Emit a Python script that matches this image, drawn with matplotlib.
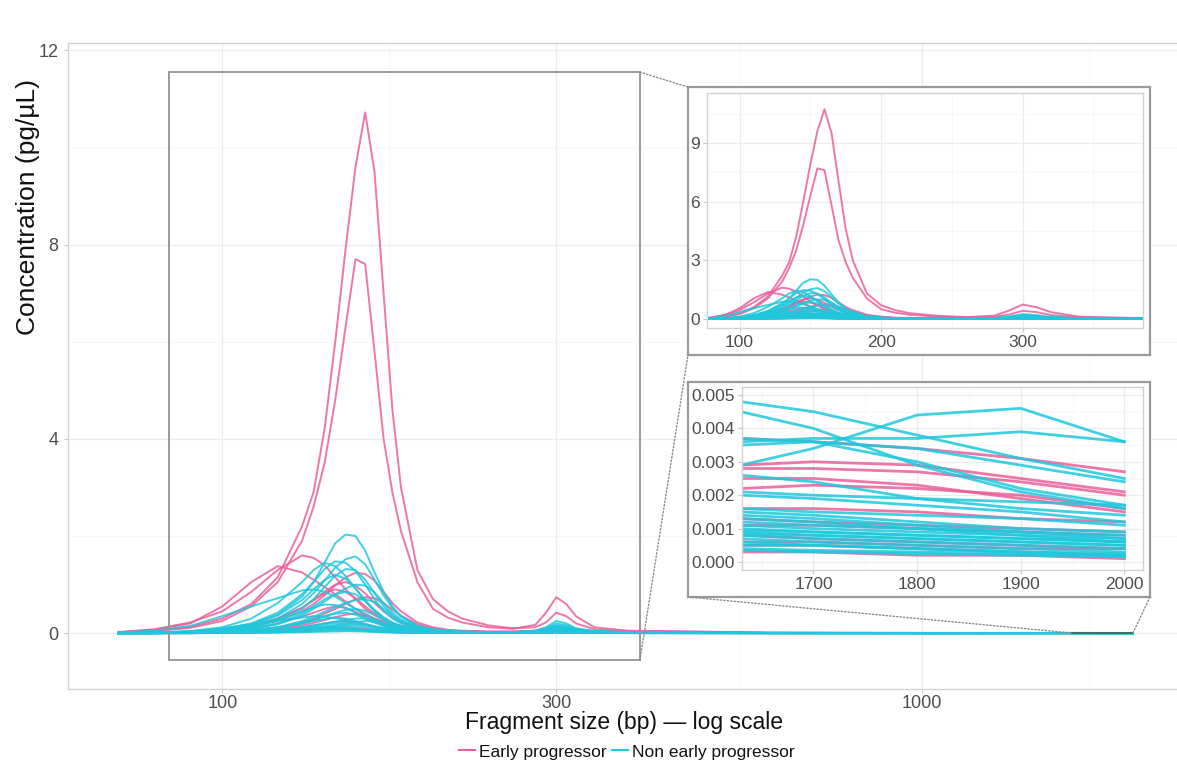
import matplotlib
matplotlib.use("Agg")
import matplotlib.pyplot as plt
from matplotlib.lines import Line2D
from matplotlib.patches import Rectangle, ConnectionPatch
from matplotlib.ticker import NullFormatter

plt.rcParams['font.family'] = ['Liberation Sans', 'DejaVu Sans']

sizes = [71, 80, 90, 100, 110,
         120, 130, 135, 140, 145,
         150, 155, 160, 165, 170,
         175, 180, 190, 200, 210,
         220, 240, 260, 280, 290,
         300, 310, 320, 340, 380,
         450, 600, 1000]
tail_sizes = [1630, 1700, 1800, 1900, 2000]

# Early progressor traces (pg/uL)
early_head = [
    [0.01, 0.05, 0.13, 0.3, 0.6, 1.15, 2.2, 2.9, 4.2, 6.0, 7.9, 9.6, 10.72, 9.5, 7.0, 4.6, 3.0, 1.3, 0.7, 0.45,
     0.3, 0.16, 0.1, 0.12, 0.22, 0.42, 0.35, 0.2, 0.08, 0.04, 0.03, 0.01, 0.005],
    [0.01, 0.04, 0.11, 0.25, 0.55, 1.05, 1.9, 2.6, 3.5, 4.8, 6.3, 7.7, 7.6, 5.8, 4.0, 2.9, 2.1, 1.05, 0.5, 0.32,
     0.22, 0.12, 0.09, 0.17, 0.42, 0.74, 0.6, 0.35, 0.12, 0.05, 0.04, 0.01, 0.005],
    [0.02, 0.08, 0.22, 0.45, 0.85, 1.3, 1.6, 1.55, 1.4, 1.15, 0.9, 0.7, 0.5, 0.38, 0.28, 0.2, 0.15, 0.1, 0.07, 0.05,
     0.04, 0.03, 0.03, 0.05, 0.1, 0.14, 0.12, 0.08, 0.04, 0.02, 0.01, 0.005, 0.002],
    [0.02, 0.07, 0.2, 0.55, 1.05, 1.38, 1.25, 1.1, 0.95, 0.8, 0.65, 0.5, 0.4, 0.3, 0.23, 0.17, 0.13, 0.09, 0.06, 0.05,
     0.04, 0.03, 0.03, 0.04, 0.07, 0.1, 0.09, 0.06, 0.03, 0.02, 0.01, 0.005, 0.002],
    [0.0, 0.01, 0.03, 0.07, 0.14, 0.25, 0.45, 0.6, 0.78, 0.98, 1.15, 1.24, 1.22, 1.08, 0.85, 0.62, 0.45, 0.22, 0.12, 0.07,
     0.05, 0.03, 0.03, 0.05, 0.1, 0.14, 0.12, 0.07, 0.03, 0.02, 0.01, 0.004, 0.002],
    [0.0, 0.01, 0.03, 0.08, 0.16, 0.3, 0.52, 0.68, 0.85, 1.0, 1.05, 0.98, 0.82, 0.62, 0.45, 0.32, 0.22, 0.1, 0.06, 0.04,
     0.03, 0.02, 0.02, 0.04, 0.08, 0.12, 0.1, 0.06, 0.03, 0.01, 0.01, 0.004, 0.002],
    [0.0, 0.01, 0.03, 0.07, 0.15, 0.3, 0.52, 0.68, 0.82, 0.9, 0.85, 0.72, 0.55, 0.4, 0.28, 0.2, 0.14, 0.07, 0.04, 0.03,
     0.02, 0.02, 0.02, 0.03, 0.06, 0.09, 0.07, 0.04, 0.02, 0.01, 0.01, 0.003, 0.001],
    [0.0, 0.0, 0.01, 0.03, 0.06, 0.12, 0.22, 0.3, 0.4, 0.5, 0.6, 0.7, 0.74, 0.72, 0.62, 0.48, 0.36, 0.18, 0.09, 0.05,
     0.03, 0.02, 0.02, 0.03, 0.05, 0.07, 0.06, 0.04, 0.02, 0.01, 0.005, 0.002, 0.001],
    [0.0, 0.01, 0.02, 0.05, 0.1, 0.2, 0.34, 0.42, 0.5, 0.55, 0.52, 0.44, 0.34, 0.25, 0.18, 0.12, 0.08, 0.04, 0.03, 0.02,
     0.02, 0.01, 0.01, 0.02, 0.04, 0.06, 0.05, 0.03, 0.01, 0.01, 0.005, 0.002, 0.001],
    [0.0, 0.0, 0.01, 0.02, 0.05, 0.09, 0.16, 0.21, 0.27, 0.33, 0.38, 0.4, 0.37, 0.3, 0.22, 0.15, 0.1, 0.05, 0.03, 0.02,
     0.01, 0.01, 0.01, 0.02, 0.03, 0.04, 0.03, 0.02, 0.01, 0.005, 0.003, 0.001, 0.001],
    [0.0, 0.0, 0.01, 0.02, 0.04, 0.07, 0.12, 0.16, 0.2, 0.23, 0.25, 0.23, 0.19, 0.14, 0.1, 0.07, 0.05, 0.03, 0.02, 0.01,
     0.01, 0.01, 0.01, 0.01, 0.02, 0.03, 0.02, 0.01, 0.01, 0.005, 0.002, 0.001, 0.001],
    [0.0, 0.0, 0.0, 0.01, 0.02, 0.03, 0.06, 0.08, 0.1, 0.11, 0.12, 0.11, 0.09, 0.07, 0.05, 0.04, 0.03, 0.02, 0.01, 0.01,
     0.01, 0.005, 0.005, 0.01, 0.01, 0.02, 0.01, 0.01, 0.005, 0.002, 0.001, 0.001, 0.0005],
]
early_tail = [
    [0.0037, 0.0036, 0.0034, 0.0031, 0.0027],
    [0.0029, 0.0030, 0.0029, 0.0025, 0.0021],
    [0.0028, 0.0028, 0.0027, 0.0024, 0.0020],
    [0.0025, 0.0025, 0.0023, 0.0019, 0.0015],
    [0.0022, 0.0023, 0.0022, 0.0020, 0.0016],
    [0.0016, 0.0016, 0.0015, 0.0013, 0.0012],
    [0.0013, 0.0012, 0.0011, 0.0010, 0.0009],
    [0.0011, 0.0011, 0.0010, 0.0009, 0.0008],
    [0.0008, 0.0007, 0.0006, 0.0005, 0.0004],
    [0.0006, 0.0006, 0.0005, 0.0004, 0.0004],
    [0.0005, 0.0005, 0.0004, 0.0003, 0.0002],
    [0.0003, 0.0003, 0.0002, 0.0002, 0.0001],
]

# Non early progressor traces (pg/uL)
non_head = [
    [0.0, 0.01, 0.03, 0.08, 0.18, 0.38, 0.75, 1.05, 1.45, 1.85, 2.03, 2.0, 1.7, 1.25, 0.85, 0.55, 0.35, 0.15, 0.08, 0.05,
     0.03, 0.02, 0.02, 0.04, 0.1, 0.2, 0.16, 0.09, 0.04, 0.02, 0.01, 0.004, 0.002],
    [0.0, 0.01, 0.03, 0.07, 0.15, 0.3, 0.6, 0.82, 1.08, 1.35, 1.52, 1.58, 1.42, 1.1, 0.78, 0.52, 0.34, 0.14, 0.07, 0.04,
     0.03, 0.02, 0.02, 0.05, 0.12, 0.25, 0.2, 0.1, 0.04, 0.02, 0.01, 0.004, 0.002],
    [0.0, 0.01, 0.03, 0.09, 0.2, 0.42, 0.8, 1.05, 1.32, 1.48, 1.45, 1.28, 1.0, 0.7, 0.46, 0.3, 0.2, 0.09, 0.05, 0.03,
     0.02, 0.02, 0.02, 0.04, 0.09, 0.16, 0.13, 0.07, 0.03, 0.02, 0.01, 0.003, 0.002],
    [0.0, 0.01, 0.04, 0.12, 0.3, 0.62, 1.05, 1.3, 1.45, 1.38, 1.18, 0.92, 0.66, 0.45, 0.3, 0.2, 0.13, 0.06, 0.04, 0.03,
     0.02, 0.02, 0.02, 0.04, 0.08, 0.12, 0.1, 0.06, 0.03, 0.02, 0.01, 0.003, 0.002],
    [0.01, 0.05, 0.15, 0.35, 0.55, 0.72, 0.88, 0.9, 0.85, 0.75, 0.62, 0.5, 0.38, 0.28, 0.2, 0.14, 0.1, 0.06, 0.04, 0.03,
     0.02, 0.02, 0.02, 0.03, 0.05, 0.08, 0.07, 0.04, 0.02, 0.01, 0.01, 0.003, 0.002],
    [0.0, 0.01, 0.02, 0.06, 0.13, 0.26, 0.5, 0.7, 0.95, 1.18, 1.32, 1.3, 1.1, 0.82, 0.56, 0.37, 0.24, 0.1, 0.05, 0.03,
     0.02, 0.02, 0.02, 0.04, 0.09, 0.15, 0.12, 0.07, 0.03, 0.02, 0.01, 0.003, 0.002],
    [0.0, 0.01, 0.03, 0.08, 0.18, 0.36, 0.68, 0.9, 1.1, 1.2, 1.12, 0.92, 0.68, 0.46, 0.3, 0.2, 0.13, 0.06, 0.04, 0.03,
     0.02, 0.02, 0.02, 0.03, 0.07, 0.12, 0.1, 0.05, 0.02, 0.01, 0.01, 0.003, 0.002],
    [0.0, 0.0, 0.01, 0.04, 0.09, 0.18, 0.36, 0.5, 0.65, 0.8, 0.92, 1.0, 0.98, 0.84, 0.62, 0.42, 0.28, 0.12, 0.06, 0.04,
     0.03, 0.02, 0.02, 0.03, 0.07, 0.12, 0.1, 0.05, 0.02, 0.01, 0.01, 0.003, 0.002],
    [0.0, 0.01, 0.02, 0.05, 0.1, 0.2, 0.4, 0.55, 0.7, 0.8, 0.85, 0.8, 0.66, 0.48, 0.33, 0.22, 0.15, 0.07, 0.04, 0.03,
     0.02, 0.02, 0.02, 0.03, 0.06, 0.1, 0.08, 0.04, 0.02, 0.01, 0.01, 0.003, 0.002],
    [0.0, 0.0, 0.01, 0.03, 0.06, 0.12, 0.25, 0.34, 0.44, 0.54, 0.62, 0.68, 0.7, 0.64, 0.5, 0.36, 0.25, 0.11, 0.05, 0.03,
     0.02, 0.02, 0.02, 0.03, 0.06, 0.09, 0.07, 0.04, 0.02, 0.01, 0.005, 0.002, 0.001],
    [0.0, 0.01, 0.03, 0.07, 0.14, 0.26, 0.44, 0.53, 0.59, 0.58, 0.52, 0.42, 0.31, 0.22, 0.15, 0.1, 0.07, 0.04, 0.03, 0.02,
     0.02, 0.02, 0.02, 0.03, 0.05, 0.08, 0.06, 0.04, 0.02, 0.01, 0.005, 0.002, 0.001],
    [0.0, 0.0, 0.01, 0.03, 0.06, 0.11, 0.2, 0.27, 0.34, 0.42, 0.48, 0.5, 0.46, 0.37, 0.27, 0.19, 0.13, 0.06, 0.03, 0.02,
     0.02, 0.01, 0.01, 0.02, 0.04, 0.07, 0.05, 0.03, 0.01, 0.01, 0.005, 0.002, 0.001],
    [0.0, 0.0, 0.01, 0.03, 0.06, 0.11, 0.21, 0.28, 0.35, 0.4, 0.42, 0.38, 0.3, 0.22, 0.15, 0.1, 0.07, 0.03, 0.02, 0.02,
     0.01, 0.01, 0.01, 0.02, 0.04, 0.06, 0.05, 0.03, 0.01, 0.01, 0.004, 0.002, 0.001],
    [0.0, 0.01, 0.04, 0.1, 0.18, 0.26, 0.32, 0.35, 0.34, 0.31, 0.27, 0.22, 0.17, 0.13, 0.1, 0.07, 0.05, 0.03, 0.02, 0.02,
     0.01, 0.01, 0.01, 0.02, 0.03, 0.05, 0.04, 0.03, 0.01, 0.01, 0.004, 0.002, 0.001],
    [0.0, 0.0, 0.01, 0.02, 0.03, 0.06, 0.12, 0.16, 0.2, 0.24, 0.27, 0.3, 0.3, 0.26, 0.2, 0.14, 0.1, 0.05, 0.03, 0.02,
     0.01, 0.01, 0.01, 0.02, 0.03, 0.05, 0.04, 0.02, 0.01, 0.005, 0.003, 0.001, 0.001],
    [0.0, 0.0, 0.01, 0.02, 0.03, 0.06, 0.11, 0.14, 0.18, 0.21, 0.22, 0.2, 0.16, 0.12, 0.09, 0.06, 0.04, 0.02, 0.01, 0.01,
     0.01, 0.01, 0.01, 0.01, 0.02, 0.04, 0.03, 0.02, 0.01, 0.005, 0.002, 0.001, 0.001],
    [0.0, 0.0, 0.0, 0.01, 0.02, 0.04, 0.07, 0.09, 0.11, 0.13, 0.15, 0.15, 0.12, 0.09, 0.06, 0.04, 0.03, 0.02, 0.01, 0.01,
     0.01, 0.005, 0.005, 0.01, 0.02, 0.03, 0.02, 0.01, 0.01, 0.003, 0.002, 0.001, 0.0005],
    [0.0, 0.0, 0.0, 0.01, 0.02, 0.03, 0.05, 0.07, 0.09, 0.1, 0.1, 0.09, 0.07, 0.05, 0.04, 0.03, 0.02, 0.01, 0.01, 0.01,
     0.005, 0.005, 0.005, 0.01, 0.01, 0.02, 0.01, 0.01, 0.005, 0.002, 0.001, 0.001, 0.0005],
    [0.0, 0.0, 0.0, 0.005, 0.01, 0.02, 0.03, 0.04, 0.05, 0.06, 0.06, 0.055, 0.045, 0.035, 0.025, 0.02, 0.015, 0.01, 0.005, 0.005,
     0.005, 0.003, 0.003, 0.005, 0.01, 0.015, 0.01, 0.005, 0.003, 0.002, 0.001, 0.0005, 0.0003],
    [0.0, 0.0, 0.005, 0.01, 0.02, 0.04, 0.08, 0.1, 0.13, 0.15, 0.17, 0.18, 0.17, 0.14, 0.1, 0.07, 0.05, 0.02, 0.01, 0.01,
     0.01, 0.005, 0.005, 0.01, 0.02, 0.03, 0.02, 0.01, 0.005, 0.003, 0.002, 0.001, 0.0005],
    [0.0, 0.0, 0.0, 0.005, 0.01, 0.02, 0.04, 0.05, 0.06, 0.07, 0.08, 0.075, 0.06, 0.045, 0.03, 0.02, 0.015, 0.01, 0.005, 0.005,
     0.005, 0.003, 0.003, 0.005, 0.01, 0.015, 0.01, 0.005, 0.003, 0.002, 0.001, 0.0005, 0.0003],
    [0.0, 0.0, 0.005, 0.01, 0.02, 0.04, 0.08, 0.11, 0.14, 0.17, 0.2, 0.23, 0.25, 0.23, 0.18, 0.13, 0.09, 0.04, 0.02, 0.01,
     0.01, 0.01, 0.01, 0.01, 0.02, 0.04, 0.03, 0.02, 0.01, 0.005, 0.002, 0.001, 0.0005],
    [0.0, 0.0, 0.01, 0.02, 0.04, 0.07, 0.1, 0.11, 0.12, 0.11, 0.1, 0.08, 0.06, 0.04, 0.03, 0.02, 0.015, 0.01, 0.005, 0.005,
     0.005, 0.003, 0.003, 0.005, 0.01, 0.015, 0.01, 0.005, 0.003, 0.002, 0.001, 0.0005, 0.0003],
    [0.0, 0.0, 0.0, 0.003, 0.006, 0.01, 0.02, 0.025, 0.03, 0.035, 0.04, 0.038, 0.032, 0.025, 0.018, 0.013, 0.01, 0.006, 0.004, 0.003,
     0.003, 0.002, 0.002, 0.003, 0.006, 0.01, 0.007, 0.004, 0.002, 0.001, 0.001, 0.0004, 0.0002],
    [0.0, 0.005, 0.01, 0.03, 0.06, 0.12, 0.2, 0.25, 0.29, 0.32, 0.3, 0.25, 0.19, 0.13, 0.09, 0.06, 0.04, 0.02, 0.015, 0.01,
     0.01, 0.01, 0.01, 0.015, 0.03, 0.05, 0.04, 0.02, 0.01, 0.005, 0.003, 0.001, 0.0005],
]
non_tail = [
    [0.0048, 0.0045, 0.0038, 0.0031, 0.0025],
    [0.0045, 0.0040, 0.0029, 0.0021, 0.0016],
    [0.0029, 0.0034, 0.0044, 0.0046, 0.0036],
    [0.0036, 0.0037, 0.0037, 0.0039, 0.0036],
    [0.0037, 0.0036, 0.0034, 0.0029, 0.0024],
    [0.0035, 0.0036, 0.0030, 0.0022, 0.0017],
    [0.0026, 0.0024, 0.0019, 0.0016, 0.0014],
    [0.0021, 0.0020, 0.0019, 0.0018, 0.0017],
    [0.0020, 0.0019, 0.0017, 0.0015, 0.0012],
    [0.0016, 0.0015, 0.0014, 0.0013, 0.0011],
    [0.0015, 0.0014, 0.0012, 0.0010, 0.0009],
    [0.0012, 0.0011, 0.0010, 0.0009, 0.0008],
    [0.0011, 0.0010, 0.0009, 0.0008, 0.0007],
    [0.0010, 0.0009, 0.0008, 0.0007, 0.0006],
    [0.0009, 0.0008, 0.0007, 0.0006, 0.0005],
    [0.0008, 0.0007, 0.0006, 0.0005, 0.0004],
    [0.0007, 0.0006, 0.0005, 0.0004, 0.0003],
    [0.0006, 0.0005, 0.0004, 0.0003, 0.00025],
    [0.0004, 0.00035, 0.0003, 0.00025, 0.0002],
    [0.0014, 0.0013, 0.0011, 0.0009, 0.0007],
    [0.0005, 0.0005, 0.0004, 0.0003, 0.0002],
    [0.0013, 0.0012, 0.0010, 0.0008, 0.0006],
    [0.00085, 0.0008, 0.0007, 0.0006, 0.0005],
    [0.00035, 0.0003, 0.00025, 0.0002, 0.00015],
    [0.00095, 0.0009, 0.0008, 0.0007, 0.0006],
]

PINK = '#e8609a'
CYAN = '#1ec8dc'
TXT = '#4d4d4d'
W, H = 1177, 765


def box(l, t, r, b):
    return [l / W, 1 - b / H, (r - l) / W, (b - t) / H]


def style_panel(a, lab=12.5):
    a.set_facecolor('white')
    for s in a.spines.values():
        s.set_color('#d2d2d2')
        s.set_linewidth(1.0)
    a.tick_params(which='major', colors=TXT, color='#c8c8c8', length=3, labelsize=lab, pad=2)
    a.tick_params(which='minor', length=0)
    a.grid(which='major', color='#ececec', lw=0.9)
    a.grid(which='minor', color='#f6f6f6', lw=0.6)
    a.set_axisbelow(True)


def draw_traces(a, lw):
    xs = sizes + tail_sizes
    for h, t in zip(early_head, early_tail):
        a.plot(xs, h + t, color=PINK, lw=lw, alpha=0.85, solid_joinstyle='round')
    for h, t in zip(non_head, non_tail):
        a.plot(xs, h + t, color=CYAN, lw=lw, alpha=0.85, solid_joinstyle='round')


fig = plt.figure(figsize=(W / 100, H / 100), dpi=100)

# main panel
ax = fig.add_axes(box(68, 43, 1182, 689))
style_panel(ax, 13)
draw_traces(ax, 1.4)
ax.set_xscale('log')
ax.set_xlim(60.2, 2350)
ax.set_ylim(-1.15, 12.15)
ax.set_xticks([100, 300, 1000], labels=['100', '300', '1000'])
ax.set_xticks([173.2, 547.7, 1732], minor=True)
ax.xaxis.set_minor_formatter(NullFormatter())
ax.set_yticks([0, 4, 8, 12], labels=['0', '4', '8', '12'])
ax.set_yticks([2, 6, 10], minor=True)
ax.tick_params(axis='y', pad=4)
ax.tick_params(axis='x', pad=1)

# zoom boxes on the main panel
big_zoom = (84, 395, -0.56, 11.55)
small_zoom = (1630, 2000, -0.0002, 0.0052)
ax.add_patch(Rectangle((big_zoom[0], big_zoom[2]), big_zoom[1] - big_zoom[0], big_zoom[3] - big_zoom[2],
                       fill=False, ec='#9a9a9a', lw=1.4, zorder=5))
ax.add_patch(Rectangle((small_zoom[0], small_zoom[2]), small_zoom[1] - small_zoom[0], small_zoom[3] - small_zoom[2],
                       fill=False, ec='#555555', lw=1.2, zorder=5))

fig.text(28 / W, 1 - 207 / H, 'Concentration (pg/µL)', rotation=90, ha='center', va='center',
         fontsize=19, color='#111111')
fig.text(624 / W, 1 - 722 / H, 'Fragment size (bp) — log scale', ha='center', va='center',
         fontsize=16.5, color='#111111')

# top inset
f1 = fig.add_axes(box(688, 87, 1150, 355))
f1.set_xticks([])
f1.set_yticks([])
f1.set_facecolor('white')
for s in f1.spines.values():
    s.set_color('#9a9a9a')
    s.set_linewidth(1.6)
i1 = fig.add_axes(box(707, 93, 1143, 328))
style_panel(i1)
draw_traces(i1, 1.4)
i1.set_xlim(77, 385)
i1.set_ylim(-0.46, 11.55)
i1.set_xticks([100, 200, 300])
i1.set_xticks([150, 250, 350], minor=True)
i1.set_yticks([0, 3, 6, 9])
i1.set_yticks([1.5, 4.5, 7.5, 10.5], minor=True)

# bottom inset
f2 = fig.add_axes(box(688, 382, 1150, 597))
f2.set_xticks([])
f2.set_yticks([])
f2.set_facecolor('white')
for s in f2.spines.values():
    s.set_color('#9a9a9a')
    s.set_linewidth(1.6)
i2 = fig.add_axes(box(742, 387, 1143, 570))
style_panel(i2)
draw_traces(i2, 2.0)
i2.set_xlim(1631, 2018)
i2.set_ylim(-0.00024, 0.00524)
i2.set_xticks([1700, 1800, 1900, 2000])
i2.set_xticks([1650, 1750, 1850, 1950], minor=True)
i2.set_yticks([0, 0.001, 0.002, 0.003, 0.004, 0.005],
              labels=['0.000', '0.001', '0.002', '0.003', '0.004', '0.005'])
i2.set_yticks([0.0005, 0.0015, 0.0025, 0.0035, 0.0045], minor=True)

# dotted connectors
conn = dict(color='#8a8a8a', lw=1.0, linestyle=(0, (1, 1.5)))
for xa, ya, fb, xyb in [(big_zoom[1], big_zoom[3], f1, (0, 1)),
                        (big_zoom[1], big_zoom[2], f1, (0, 0)),
                        (small_zoom[0], small_zoom[3], f2, (0, 0)),
                        (small_zoom[1], small_zoom[3], f2, (1, 0))]:
    fig.add_artist(ConnectionPatch(xyA=(xa, ya), coordsA=ax.transData, xyB=xyb,
                                   coordsB=fb.transAxes, **conn))

handles = [Line2D([], [], color=PINK, lw=1.5), Line2D([], [], color=CYAN, lw=1.5)]
fig.legend(handles, ['Early progressor', 'Non early progressor'], loc='center',
           bbox_to_anchor=(627 / W, 1 - 752 / H), ncol=2, frameon=False, fontsize=12.5,
           handlelength=0.9, handletextpad=0.25, columnspacing=0.3, labelcolor='#111111')

fig.savefig('out.png', dpi=100)
